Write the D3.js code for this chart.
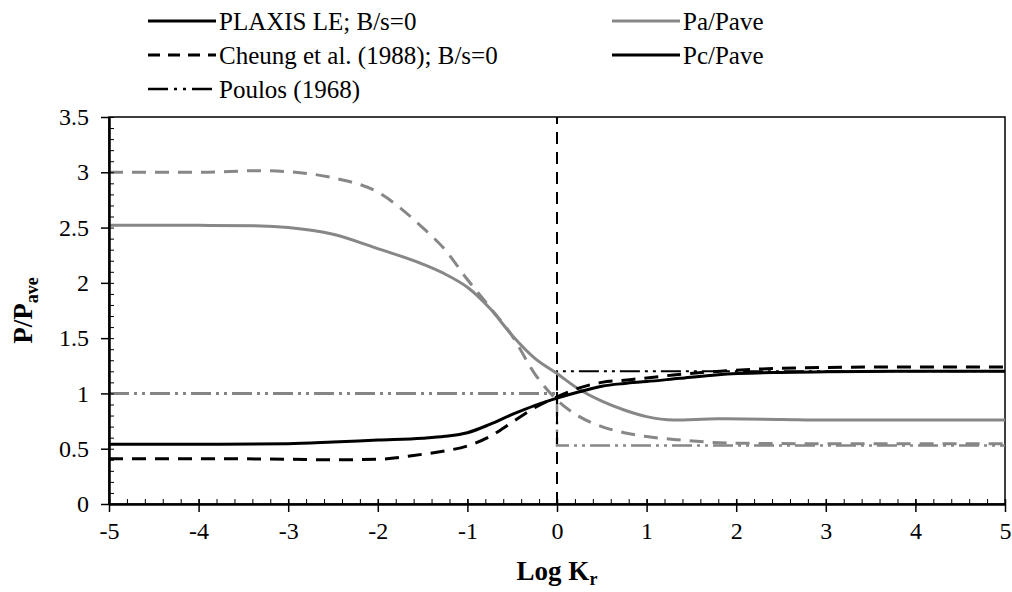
<!DOCTYPE html>
<html>
<head>
<meta charset="utf-8">
<script src="https://cdn.jsdelivr.net/npm/d3@7"></script>
<style>
  body { margin: 0; background: #fff; }
  svg text { font-family: "Liberation Serif", "Times New Roman", serif; fill: #000; }
</style>
</head>
<body>
<div id="chart"></div>
<script>
// data
var xTicks = [-5, -4, -3, -2, -1, 0, 1, 2, 3, 4, 5];
var yTicks = [0, 0.5, 1, 1.5, 2, 2.5, 3, 3.5];

var paPlaxisX = [-5, -4, -3.3, -3, -2.5, -2, -1.5, -1.25, -1, -0.75, -0.5, -0.25, 0, 0.25, 0.5, 0.75, 1, 1.3, 1.8, 2.5, 3, 4, 5];
var paPlaxisY = [2.52, 2.52, 2.515, 2.5, 2.44, 2.31, 2.17, 2.08, 1.96, 1.77, 1.525, 1.32, 1.18, 1.035, 0.93, 0.85, 0.79, 0.76, 0.77, 0.765, 0.76, 0.76, 0.76];

var paCheungX = [-5, -4, -3.3, -3, -2.5, -2, -1.5, -1.25, -1, -0.75, -0.5, -0.25, 0, 0.25, 0.5, 0.75, 1, 1.35, 2, 3, 4, 5];
var paCheungY = [3.0, 3.0, 3.015, 3.005, 2.95, 2.82, 2.5, 2.3, 2.03, 1.78, 1.52, 1.18, 0.94, 0.79, 0.7, 0.645, 0.61, 0.58, 0.55, 0.545, 0.545, 0.545];

var pcPlaxisX = [-5, -4, -3, -2.5, -2, -1.5, -1.25, -1, -0.75, -0.5, -0.25, 0, 0.25, 0.5, 0.75, 1, 1.37, 1.8, 2.5, 3, 4, 5];
var pcPlaxisY = [0.54, 0.54, 0.545, 0.56, 0.578, 0.595, 0.612, 0.645, 0.72, 0.81, 0.89, 0.957, 1.015, 1.065, 1.09, 1.107, 1.137, 1.17, 1.19, 1.195, 1.2, 1.2];

var pcCheungX = [-5, -4, -3, -2.5, -2, -1.5, -1.25, -1, -0.75, -0.5, -0.25, 0, 0.25, 0.5, 0.75, 1, 1.3, 2, 3, 4, 5];
var pcCheungY = [0.41, 0.41, 0.405, 0.4, 0.405, 0.45, 0.48, 0.525, 0.61, 0.74, 0.87, 0.97, 1.05, 1.1, 1.12, 1.14, 1.167, 1.21, 1.235, 1.24, 1.24];

var paPoulosX = [-5, 0, 0, 5];
var paPoulosY = [1, 1, 0.53, 0.53];
var pcPoulosX = [-5, 0, 0, 5];
var pcPoulosY = [1, 1, 1.2, 1.2];

var refLineX = [0, 0];
var refLineY = [0, 3.5];

// set the dimensions and margins of the graph
var margin = {top: 117, right: 7, bottom: 88, left: 109},
width = 1012 - margin.left - margin.right,
height = 592 - margin.top - margin.bottom;

var svg = d3.select("#chart")
.append("svg")
    .attr("width", 1012)
    .attr("height", 592)
.append("g")
    .attr("transform", "translate(" + margin.left + "," + margin.top + ")");

var x = d3.scaleLinear().domain([-5, 5]).range([0, width]);
var y = d3.scaleLinear().domain([0, 3.5]).range([height, 0]);

var gray = "#878787";
var serif = "'Liberation Serif', 'Times New Roman', serif";

// plot area border
svg.append("rect")
    .attr("x", 0).attr("y", 0)
    .attr("width", width).attr("height", height)
    .attr("fill", "none")
    .attr("stroke", "#000")
    .attr("stroke-width", 1.5);

function zip(xs, ys) { return xs.map(function(d, i) { return [d, ys[i]]; }); }

var line = d3.line()
    .x(function(d) { return x(d[0]); })
    .y(function(d) { return y(d[1]); });
var smooth = d3.line()
    .curve(d3.curveMonotoneX)
    .x(function(d) { return x(d[0]); })
    .y(function(d) { return y(d[1]); });

var poulosDash = "20,5,3,5,3,5";
var cheungDash = "14,9";

// Poulos (1968) step lines
svg.append("path")
    .attr("fill", "none").attr("stroke", "#000").attr("stroke-width", 2)
    .attr("stroke-dasharray", poulosDash)
    .attr("d", line(zip(pcPoulosX, pcPoulosY)));
svg.append("path")
    .attr("fill", "none").attr("stroke", gray).attr("stroke-width", 2.5)
    .attr("stroke-dasharray", poulosDash)
    .attr("d", line(zip(paPoulosX, paPoulosY)));

// x=0 reference
svg.append("path")
    .attr("fill", "none").attr("stroke", "#000").attr("stroke-width", 2)
    .attr("stroke-dasharray", "12,8")
    .attr("d", line(zip(refLineX, refLineY)));

// Pa curves (gray)
svg.append("path")
    .attr("fill", "none").attr("stroke", gray).attr("stroke-width", 3)
    .attr("stroke-dasharray", cheungDash)
    .attr("d", smooth(zip(paCheungX, paCheungY)));
svg.append("path")
    .attr("fill", "none").attr("stroke", gray).attr("stroke-width", 3)
    .attr("d", smooth(zip(paPlaxisX, paPlaxisY)));

// Pc curves (black)
svg.append("path")
    .attr("fill", "none").attr("stroke", "#000").attr("stroke-width", 3)
    .attr("stroke-dasharray", cheungDash)
    .attr("d", smooth(zip(pcCheungX, pcCheungY)));
svg.append("path")
    .attr("fill", "none").attr("stroke", "#000").attr("stroke-width", 3)
    .attr("d", smooth(zip(pcPlaxisX, pcPlaxisY)));

// X axis: major ticks outward, minor inward
svg.append("g")
    .attr("transform", "translate(0," + height + ")")
    .call(d3.axisBottom(x).tickValues(d3.range(-5, 5.001, 0.2)).tickSize(-5).tickFormat(""))
    .call(function(g) { g.select(".domain").remove(); });
var xAxis = svg.append("g")
    .attr("transform", "translate(0," + height + ")")
    .call(d3.axisBottom(x).tickValues(xTicks).tickSize(8).tickSizeOuter(0).tickPadding(10)
          .tickFormat(function(d) { return String(d); }))
    .attr("font-family", serif)
    .attr("font-size", 24);
xAxis.selectAll(".tick line").attr("y1", -5).attr("stroke-width", 1.5);
xAxis.select(".domain").attr("stroke-width", 2.5);

// Y axis
svg.append("g")
    .call(d3.axisLeft(y).tickValues(d3.range(0, 3.501, 0.1)).tickSize(-5).tickFormat(""))
    .call(function(g) { g.select(".domain").remove(); });
var yAxis = svg.append("g")
    .call(d3.axisLeft(y).tickValues(yTicks).tickSize(8).tickSizeOuter(0).tickPadding(12)
          .tickFormat(function(d) { return String(d); }))
    .attr("font-family", serif)
    .attr("font-size", 24);
yAxis.selectAll(".tick line").attr("stroke-width", 1.5);
yAxis.select(".domain").attr("stroke-width", 2.5);

// axis titles
var xTitle = svg.append("text")
    .attr("x", width / 2)
    .attr("y", height + 76)
    .attr("text-anchor", "middle")
    .style("font-size", "27px")
    .style("font-weight", "bold");
xTitle.append("tspan").text("Log K");
xTitle.append("tspan").attr("dy", 5).style("font-size", "18px").text("r");

var yTitle = svg.append("text")
    .attr("transform", "translate(" + (-77) + "," + (height / 2) + ") rotate(-90)")
    .attr("text-anchor", "middle")
    .style("font-size", "27px")
    .style("font-weight", "bold");
yTitle.append("tspan").text("P/P");
yTitle.append("tspan").attr("dy", 6).style("font-size", "18px").text("ave");

// Handmade legend
var legendRows = [
  {label: "PLAXIS LE; B/s=0", color: "#000", dash: null, w: 3, lx: 148, ly: 21},
  {label: "Cheung et al. (1988); B/s=0", color: "#000", dash: "12,8", w: 3, lx: 148, ly: 55},
  {label: "Poulos (1968)", color: "#000", dash: "20,6,3,6,3,6", w: 2.5, lx: 148, ly: 89},
  {label: "Pa/Pave", color: gray, dash: null, w: 3, lx: 612, ly: 21},
  {label: "Pc/Pave", color: "#000", dash: null, w: 3, lx: 612, ly: 55}
];
var legend = d3.select("svg").append("g");
legendRows.forEach(function(r) {
  legend.append("line")
    .attr("x1", r.lx).attr("x2", r.lx + 68)
    .attr("y1", r.ly).attr("y2", r.ly)
    .attr("stroke", r.color).attr("stroke-width", r.w)
    .attr("stroke-dasharray", r.dash);
  legend.append("text")
    .attr("x", r.lx + 71).attr("y", r.ly)
    .attr("dominant-baseline", "central")
    .style("font-size", "25px")
    .text(r.label);
});
</script>
</body>
</html>
